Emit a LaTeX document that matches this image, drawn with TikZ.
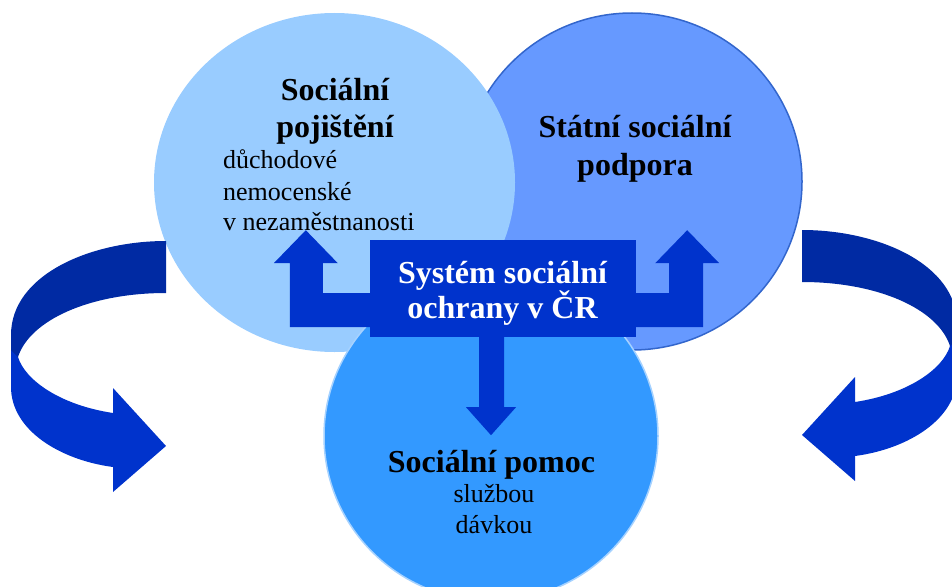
\documentclass[tikz,border=0pt]{standalone}
\usepackage{fontspec}
\setmainfont{Liberation Serif}
\usetikzlibrary{calc}

\definecolor{lightcirc}{HTML}{99CCFF}
\definecolor{midcirc}{HTML}{6699FF}
\definecolor{midline}{HTML}{3366CC}
\definecolor{lowcirc}{HTML}{3399FF}
\definecolor{lowline}{HTML}{A6D2FF}
\definecolor{royal}{HTML}{0033CC}
\definecolor{navy}{HTML}{002AA3}

\tikzset{
  title/.style={font=\fontsize{32}{38}\selectfont\bfseries, text=black, inner sep=0pt, anchor=base},
  item/.style={font=\fontsize{26}{31}\selectfont, text=black, inner sep=0pt},
  boxtext/.style={title, text=white},
}

% ribbon arrow turning back on itself
\newcommand\ribbonarrow{%
  \fill[royal] (11,330) -- (11,387) .. controls (11,430) and (60,460) .. (113,467)
    -- (113,492) -- (166,446) -- (113,388) -- (113,413)
    .. controls (60,405) and (25,380) .. (18,357) -- cycle;
  \fill[navy] (166,241) -- (166,293) .. controls (90,293) and (30,320) .. (18,357)
    -- (11,350) -- (11,335) .. controls (11,275) and (90,241) .. (166,241) -- cycle;
}

\begin{document}
\begin{tikzpicture}[x=1pt,y=-1pt]
\useasboundingbox (0,0) rectangle (952,586);
\clip (0,0) rectangle (952,586);

% the three areas of the system
\filldraw[fill=midcirc, draw=midline, line width=1.5pt] (632,181.5) ellipse [x radius=170pt, y radius=168.5pt];
\fill[lightcirc] (334.5,182.5) ellipse [x radius=180.5pt, y radius=169.5pt];
\filldraw[fill=lowcirc, draw=lowline, line width=1.5pt] (491,436) ellipse [x radius=167pt, y radius=165pt];

% central box
\node[fill=royal, minimum width=266pt, minimum height=97pt, inner sep=0pt] (sys) at (503,288.5) {};

% block arrows leaving the box
\fill[royal] ($(sys.south west)+(3,-10)$) -- ++(-83,0) -- ++(0,-64) -- ++(-16,0)
  -- ++(32,-33) -- ++(32,33) -- ++(-15,0) -- ++(0,30) -- ++(50,0) -- cycle;
\fill[royal] ($(sys.south east)+(-3,-10)$) -- ++(70,0) -- ++(0,-64) -- ++(16,0)
  -- ++(-32,-33) -- ++(-32,33) -- ++(14,0) -- ++(0,30) -- ++(-36,0) -- cycle;
\fill[royal] ($(sys.south)+(-24,-3)$) -- ++(0,73) -- ++(-13,0) -- ++(25,28)
  -- ++(25,-28) -- ++(-12,0) -- ++(0,-73) -- cycle;

% texts
\node[boxtext] (sysA) at (502.5,283) {Systém sociální};
\node[boxtext] (sysB) at (502.5,318) {ochrany v ČR};

\node[title] (piA) at (335,100) {Sociální};
\node[title] (piB) at (335,137) {pojištění};
\node[item, anchor=base west] (piC) at (223,168) {důchodové};
\node[item, anchor=base west] (piD) at (223,200) {nemocenské};
\node[item, anchor=base west] (piE) at (223,230) {v nezaměstnanosti};

\node[title] (ssA) at (635,137) {Státní sociální};
\node[title] (ssB) at (635,175) {podpora};

\node[title] (spA) at (491.5,472) {Sociální pomoc};
\node[item, anchor=base] (spB) at (494,502) {službou};
\node[item, anchor=base] (spC) at (494,533) {dávkou};

% side arrows: the right one is the left one mirrored and raised
\ribbonarrow
\begin{scope}[cm={-1,0,0,1,(968pt,11pt)}]
  \ribbonarrow
\end{scope}
\end{tikzpicture}
\end{document}
